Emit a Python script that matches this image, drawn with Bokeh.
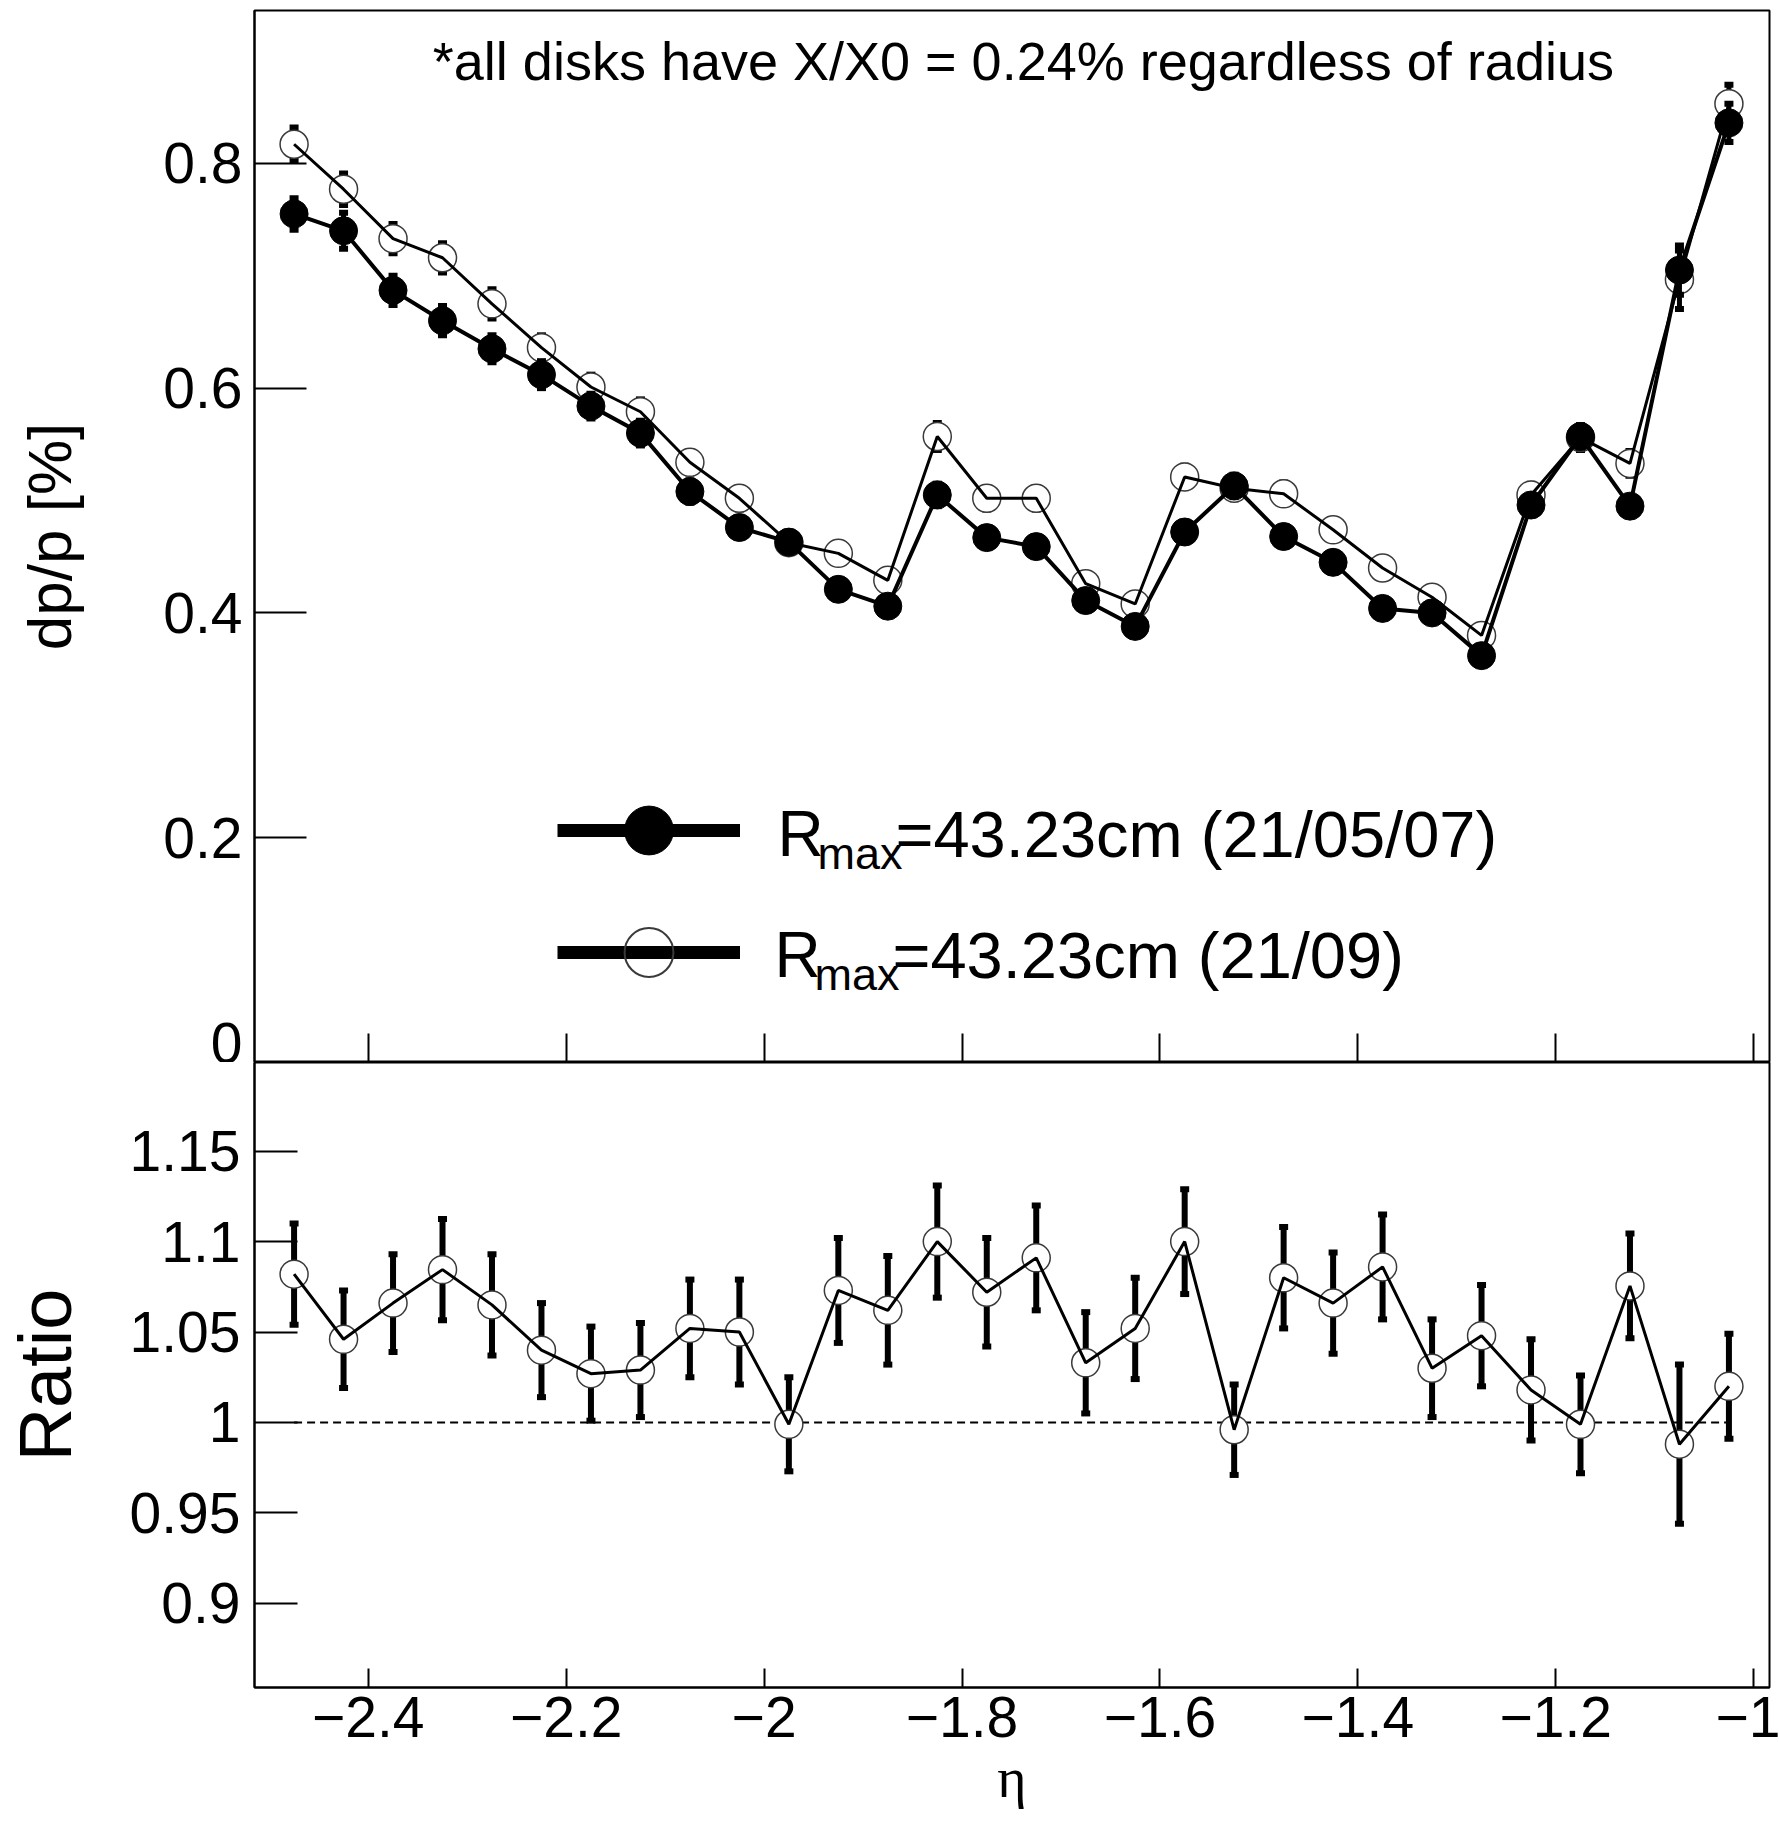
from bokeh.plotting import figure
from bokeh.layouts import column
from bokeh.models import (Range1d, FixedTicker, CustomJSTickFormatter, Label,
                          Legend, LegendItem, ColumnDataSource)
from bokeh.embed import file_html
from bokeh.resources import INLINE

# ---------------- data ----------------
eta = [-2.475, -2.425, -2.375, -2.325, -2.275, -2.225, -2.175, -2.125, -2.075, -2.025,
       -1.975, -1.925, -1.875, -1.825, -1.775, -1.725, -1.675, -1.625, -1.575, -1.525,
       -1.475, -1.425, -1.375, -1.325, -1.275, -1.225, -1.175, -1.125, -1.075, -1.025]

# R_max=43.23cm (21/05/07)  -- filled circles
dpp_a = [0.755, 0.740, 0.687, 0.660, 0.635, 0.612, 0.584, 0.560, 0.508, 0.476,
         0.463, 0.421, 0.406, 0.505, 0.467, 0.459, 0.411, 0.388, 0.472, 0.513,
         0.468, 0.445, 0.404, 0.400, 0.362, 0.496, 0.557, 0.495, 0.705, 0.836]
err_a = [0.014, 0.016, 0.013, 0.013, 0.012, 0.012, 0.011, 0.011, 0.010, 0.009,
         0.009, 0.008, 0.008, 0.010, 0.009, 0.009, 0.008, 0.008, 0.009, 0.010,
         0.009, 0.009, 0.008, 0.008, 0.007, 0.009, 0.010, 0.009, 0.022, 0.017]

# R_max=43.23cm (21/09)  -- open circles
dpp_b = [0.817, 0.777, 0.733, 0.716, 0.675, 0.636, 0.601, 0.579, 0.534, 0.502,
         0.4625, 0.453, 0.429, 0.557, 0.502, 0.502, 0.426, 0.408, 0.521, 0.511,
         0.506, 0.474, 0.440, 0.414, 0.380, 0.505, 0.556, 0.533, 0.6965, 0.853]
err_b = [0.015, 0.014, 0.013, 0.013, 0.013, 0.011, 0.011, 0.011, 0.010, 0.010,
         0.009, 0.009, 0.009, 0.012, 0.010, 0.010, 0.009, 0.008, 0.010, 0.010,
         0.010, 0.009, 0.009, 0.008, 0.008, 0.010, 0.011, 0.011, 0.026, 0.017]

# Ratio (21/09) / (21/05/07)
ratio = [1.082, 1.046, 1.066, 1.0845, 1.065, 1.040, 1.027, 1.029, 1.052, 1.050,
         0.999, 1.073, 1.062, 1.100, 1.072, 1.091, 1.033, 1.052, 1.100, 0.996,
         1.080, 1.066, 1.086, 1.030, 1.048, 1.018, 0.999, 1.0755, 0.988, 1.020]
ratio_err = [0.028, 0.027, 0.027, 0.028, 0.028, 0.026, 0.026, 0.026, 0.027, 0.029,
             0.026, 0.029, 0.030, 0.031, 0.030, 0.029, 0.028, 0.028, 0.029, 0.025,
             0.028, 0.028, 0.029, 0.027, 0.028, 0.028, 0.027, 0.029, 0.044, 0.029]

x_ticks = [-2.4, -2.2, -2.0, -1.8, -1.6, -1.4, -1.2, -1.0]
y_ticks_top = [0.0, 0.2, 0.4, 0.6, 0.8]
y_ticks_ratio = [0.9, 0.95, 1.0, 1.05, 1.1, 1.15]

label_a = "=43.23cm (21/05/07)"
label_b = "=43.23cm (21/09)"
note = "*all disks have X/X0 = 0.24% regardless of radius"

# ---------------- style ----------------
FONT = "Liberation Sans"
TICK_FS = "57px"
X_RANGE = (-2.515, -0.984)

fmt = CustomJSTickFormatter(code="""
    const a = Math.abs(tick);
    const s = parseFloat(a.toFixed(3)).toString();
    return (tick < -1e-9 ? "\\u2212" : "") + s;
""")


def style_common(p):
    p.xgrid.visible = False
    p.ygrid.visible = False
    p.outline_line_color = "black"
    p.outline_line_width = 2
    p.background_fill_color = "white"
    p.border_fill_color = "white"
    for ax in (p.xaxis[0], p.yaxis[0]):
        ax.axis_line_width = 2
        ax.major_tick_line_width = 2
        ax.minor_tick_line_color = None
        ax.major_tick_out = 0
        ax.formatter = fmt
        ax.major_label_text_font = FONT
        ax.major_label_text_font_size = TICK_FS
        ax.major_label_text_color = "black"
        ax.axis_label_text_font = FONT
        ax.axis_label_text_font_style = "normal"
        ax.axis_label_text_color = "black"


def draw_errors(p, src, col_lo, col_hi, bar_w):
    p.segment(x0="x", y0=col_lo, x1="x", y1=col_hi, source=src,
              line_width=bar_w, line_color="black")
    p.rect(x="x", y=col_lo, width=9, height=6, width_units="screen",
           height_units="screen", source=src, fill_color="black", line_color=None)
    p.rect(x="x", y=col_hi, width=9, height=6, width_units="screen",
           height_units="screen", source=src, fill_color="black", line_color=None)


def text_label(x, y, txt, size, x_offset=0, align="left", font=FONT):
    return Label(x=x, y=y, x_offset=x_offset, text=txt, text_font=font,
                 text_font_size=size, text_align=align, text_baseline="middle",
                 text_color="black")


# ---------------- top panel ----------------
p1 = figure(frame_width=1515, frame_height=1052,
            x_range=Range1d(*X_RANGE), y_range=Range1d(0.0, 0.936),
            output_backend="svg", toolbar_location=None,
            min_border_left=252, min_border_right=11,
            min_border_top=10, min_border_bottom=0)
style_common(p1)
p1.xaxis.ticker = FixedTicker(ticks=x_ticks)
p1.xaxis.major_tick_in = 29
p1.xaxis.major_label_text_font_size = "0px"
p1.xaxis.major_label_text_color = None
p1.xaxis.major_label_standoff = 0
p1.yaxis.ticker = FixedTicker(ticks=y_ticks_top)
p1.yaxis.major_tick_in = 52
p1.yaxis.major_label_standoff = 12
p1.yaxis.axis_label = "dp/p [%]"
p1.yaxis.axis_label_text_font_size = "62px"
p1.yaxis.axis_label_standoff = 76

src_a = ColumnDataSource(dict(x=eta, y=dpp_a,
                              lo=[v - e for v, e in zip(dpp_a, err_a)],
                              hi=[v + e for v, e in zip(dpp_a, err_a)]))
src_b = ColumnDataSource(dict(x=eta, y=dpp_b,
                              lo=[v - e for v, e in zip(dpp_b, err_b)],
                              hi=[v + e for v, e in zip(dpp_b, err_b)]))

# open series (21/09)
draw_errors(p1, src_b, "lo", "hi", 5)
p1.scatter(x="x", y="y", source=src_b, marker="circle", size=28,
           fill_color="white", line_color="#3a3a3a", line_width=1.5)
p1.line(x="x", y="y", source=src_b, line_width=3, line_color="black")
# filled series (21/05/07)
draw_errors(p1, src_a, "lo", "hi", 5)
p1.line(x="x", y="y", source=src_a, line_width=4, line_color="black")
p1.scatter(x="x", y="y", source=src_a, marker="circle", size=28,
           fill_color="black", line_color="black")

# legend swatches: hidden copies of the series carrying the legend styles
leg_line_a = p1.line(x="x", y="y", source=src_a, line_width=13,
                     line_color="black", visible=False)
leg_dot_a = p1.scatter(x="x", y="y", source=src_a, marker="circle",
                       fill_color="black", line_color="black", visible=False)
leg_line_b = p1.line(x="x", y="y", source=src_b, line_width=13,
                     line_color="black", visible=False)
leg_dot_b = p1.scatter(x="x", y="y", source=src_b, marker="circle", fill_color=None,
                       line_color="#3a3a3a", line_width=2, visible=False)
legend = Legend(items=[LegendItem(label=" ", renderers=[leg_line_a, leg_dot_a]),
                       LegendItem(label=" ", renderers=[leg_line_b, leg_dot_b])],
                location=(303, 49), glyph_width=183, glyph_height=122,
                spacing=0, padding=0, margin=0, label_standoff=0,
                label_width=0, label_height=0, label_text_font_size="1px",
                label_text_color=None,
                border_line_color=None, background_fill_alpha=0)
p1.add_layout(legend)

# legend texts with subscript (anchored at their vertical middles)
for x0, ym, ysub, txt in ((-1.9865, 0.2032, 0.1856, label_a),
                          (-1.9895, 0.0955, 0.0786, label_b)):
    p1.add_layout(text_label(x0, ym, "R", "64px"))
    p1.add_layout(text_label(x0, ysub, "max", "45px", x_offset=40))
    p1.add_layout(text_label(x0, ym, txt, "65px", x_offset=118))

p1.add_layout(text_label(-1.738, 0.8915, note, "54px", align="center"))

# ---------------- ratio panel ----------------
p2 = figure(frame_width=1515, frame_height=625,
            x_range=p1.x_range, y_range=Range1d(0.8535, 1.199),
            output_backend="svg", toolbar_location=None,
            min_border_left=252, min_border_right=11,
            min_border_top=0, min_border_bottom=0)
style_common(p2)
p2.xaxis.ticker = FixedTicker(ticks=x_ticks)
p2.xaxis.major_tick_in = 19
p2.xaxis.major_label_standoff = 9
p2.xaxis.axis_label = "η"
p2.xaxis.axis_label_text_font = "Liberation Serif"
p2.xaxis.axis_label_text_font_size = "56px"
p2.xaxis.axis_label_standoff = 7
p2.yaxis.ticker = FixedTicker(ticks=y_ticks_ratio)
p2.yaxis.major_tick_in = 43
p2.yaxis.major_label_standoff = 14
p2.yaxis.axis_label = "Ratio"
p2.yaxis.axis_label_text_font_size = "74px"
p2.yaxis.axis_label_standoff = 40

src_r = ColumnDataSource(dict(x=eta, y=ratio,
                              lo=[v - e for v, e in zip(ratio, ratio_err)],
                              hi=[v + e for v, e in zip(ratio, ratio_err)]))
p2.line(x=[eta[0], eta[-1]], y=[1.0, 1.0], line_dash="8 5", line_width=2,
        line_color="black")
draw_errors(p2, src_r, "lo", "hi", 6)
p2.scatter(x="x", y="y", source=src_r, marker="circle", size=28,
           fill_color="white", line_color="#3a3a3a", line_width=1.5)
p2.line(x="x", y="y", source=src_r, line_width=3, line_color="black")

layout = column(p1, p2)
open("out.html", "w").write(file_html(layout, INLINE))
